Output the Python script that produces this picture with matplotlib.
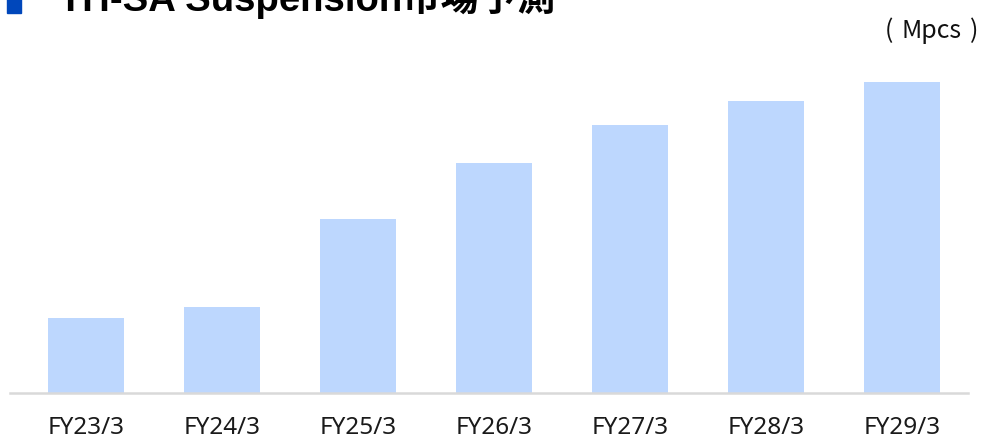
import matplotlib
matplotlib.use("Agg")
import matplotlib.pyplot as plt
from matplotlib.patches import Rectangle

# data (Mpcs, approximate)
years = ["FY23/3", "FY24/3", "FY25/3", "FY26/3", "FY27/3", "FY28/3", "FY29/3"]
values = [75, 86, 174, 230, 268, 292, 311]

W, H = 984, 439
fig = plt.figure(figsize=(W / 100, H / 100), dpi=100)

ax = fig.add_axes([10 / W, 1 - 394 / H, 958 / W, 334 / H])
x = list(range(len(years)))
ax.bar(x, values, width=0.56, color="#BDD7FE", zorder=2)
ax.set_xlim(-0.559, 6.485)
ax.set_ylim(0, 334)

for s in ["top", "right", "left"]:
    ax.spines[s].set_visible(False)
ax.spines["bottom"].set_color("#D9D9D9")
ax.spines["bottom"].set_linewidth(1.8)
ax.set_yticks([])
ax.set_xticks(x)
ax.set_xticklabels(years, fontsize=17.5, family="Noto Sans", color="#1a1a1a")
ax.tick_params(axis="x", length=0, pad=16)

# title, clipped at the top of the picture like the original
fig.patches.append(Rectangle((7 / W, 1 - 14 / H), 14 / W, 30 / H,
                             transform=fig.transFigure, color="#0047BB", zorder=3))
fig.text(59 / W, 1 - 11 / H, "TH-SA Suspension市場予測", fontsize=27.5, weight="bold",
         family=["Liberation Sans", "Noto Sans CJK JP"], va="baseline", ha="left")

# unit label, parens spaced out like the full-width ones in the original
unit_font = ["Noto Sans CJK JP", "DejaVu Sans"]
fig.text(889 / W, 1 - 38 / H, "(", fontsize=18, family=unit_font, va="baseline", ha="center", color="#111111")
fig.text(931 / W, 1 - 38 / H, "Mpcs", fontsize=18, family=unit_font, va="baseline", ha="center", color="#111111")
fig.text(974 / W, 1 - 38 / H, ")", fontsize=18, family=unit_font, va="baseline", ha="center", color="#111111")

fig.savefig("out.png", dpi=100)
